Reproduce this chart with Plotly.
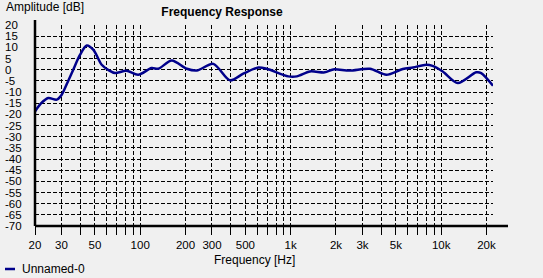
import numpy as np
import plotly.graph_objects as go

freq_hz = [20, 22, 24.5, 27.9, 30.1, 33, 35.9, 39.8, 44.1, 48.9, 55.5, 62, 68, 81, 97,
           119, 132, 162, 204, 238, 306, 395, 484, 610, 693, 964, 1098, 1343, 1686, 1916,
           2468, 3360, 4320, 5560, 6500, 7960, 8760, 10240, 12900, 17080, 18440, 22100]
amp_db = [-18.7, -15.0, -12.7, -13.4, -11.2, -5.5, 0.0, 6.6, 10.8, 8.9, 2.2, -0.3, -1.5, -0.5, -2.3,
          0.7, 0.4, 4.1, 0.4, -0.4, 2.6, -4.8, -1.8, 1.0, 0.4, -3.0, -3.0, -0.8, -1.2, 0.1,
          -0.4, 0.4, -2.3, 0.3, 1.0, 2.2, 1.7, -0.8, -6.0, -1.2, -1.5, -7.2]

x_grid = [m * 10 ** d for d in range(1, 5) for m in range(1, 10) if 20 <= m * 10 ** d <= 22100]
x_labels = {20: "20", 30: "30", 50: "50", 100: "100", 200: "200", 300: "300", 500: "500",
            1000: "1k", 2000: "2k", 3000: "3k", 5000: "5k", 10000: "10k", 20000: "20k"}
y_ticks = list(range(-70, 21, 5))

W, H = 543, 278
L, R, T, B = 35, 50, 25, 52
pw, ph = W - L - R, H - T - B

def px_x(p):
    return (p - L) / pw

def px_y(p):
    return (H - B - p) / ph

font = "Liberation Sans, Arial, sans-serif"
navy = "#00008B"
dash = "4px,2px"

fig = go.Figure()
fig.add_trace(go.Scatter(x=freq_hz, y=amp_db, mode="lines",
                         line=dict(color=navy, width=2.5, shape="spline", smoothing=0.8),
                         name="Unnamed-0", showlegend=False))

fig.update_xaxes(type="log", range=[np.log10(20), np.log10(22100)],
                 tickvals=x_grid, ticktext=[x_labels.get(v, "") for v in x_grid],
                 showgrid=True, gridcolor="black", griddash=dash, gridwidth=1,
                 ticks="outside", ticklen=8, tickcolor="black", tickwidth=1,
                 showline=False, zeroline=False,
                 tickfont=dict(family=font, size=11.5, color="black"))
fig.update_yaxes(range=[-70, 20], tickvals=y_ticks, showticklabels=False,
                 showgrid=True, gridcolor="black", griddash=dash, gridwidth=1,
                 showline=False, zeroline=False)

annotations = []
for v in y_ticks:
    annotations.append(dict(x=px_x(3), xref="paper", y=v, yref="y", text=str(v),
                            showarrow=False, xanchor="left", yanchor="middle",
                            font=dict(family=font, size=11.5, color="black")))
annotations.append(dict(x=px_x(4), xref="paper", y=px_y(7), yref="paper", text="Amplitude [dB]",
                        showarrow=False, xanchor="left", yanchor="middle",
                        font=dict(family=font, size=12, color="black")))
annotations.append(dict(x=px_x(254), xref="paper", y=px_y(260), yref="paper", text="Frequency [Hz]",
                        showarrow=False, xanchor="center", yanchor="middle",
                        font=dict(family=font, size=12, color="black")))
annotations.append(dict(x=px_x(20), xref="paper", y=px_y(269), yref="paper", text="Unnamed-0",
                        showarrow=False, xanchor="left", yanchor="middle",
                        font=dict(family=font, size=12, color="black")))

shapes = [
    dict(type="line", xref="paper", yref="paper", x0=0, x1=0, y0=0, y1=px_y(20),
         line=dict(color="black", width=2.5)),
    dict(type="line", xref="paper", yref="paper", x0=0, x1=px_x(508), y0=0, y1=0,
         line=dict(color="black", width=2.5)),
    dict(type="line", xref="paper", yref="paper", x0=px_x(5), x1=px_x(15), y0=px_y(269), y1=px_y(269),
         line=dict(color=navy, width=2.5)),
]

fig.update_layout(
    width=W, height=H, margin=dict(l=L, r=R, t=T, b=B),
    paper_bgcolor="#F0F0F0", plot_bgcolor="#F0F0F0",
    title=dict(text="<b>Frequency Response</b>", x=222 / W, xanchor="center",
               y=1 - 12 / H, yanchor="middle", font=dict(family=font, size=12, color="black")),
    annotations=annotations, shapes=shapes, showlegend=False,
)

fig.write_html("out.html")
